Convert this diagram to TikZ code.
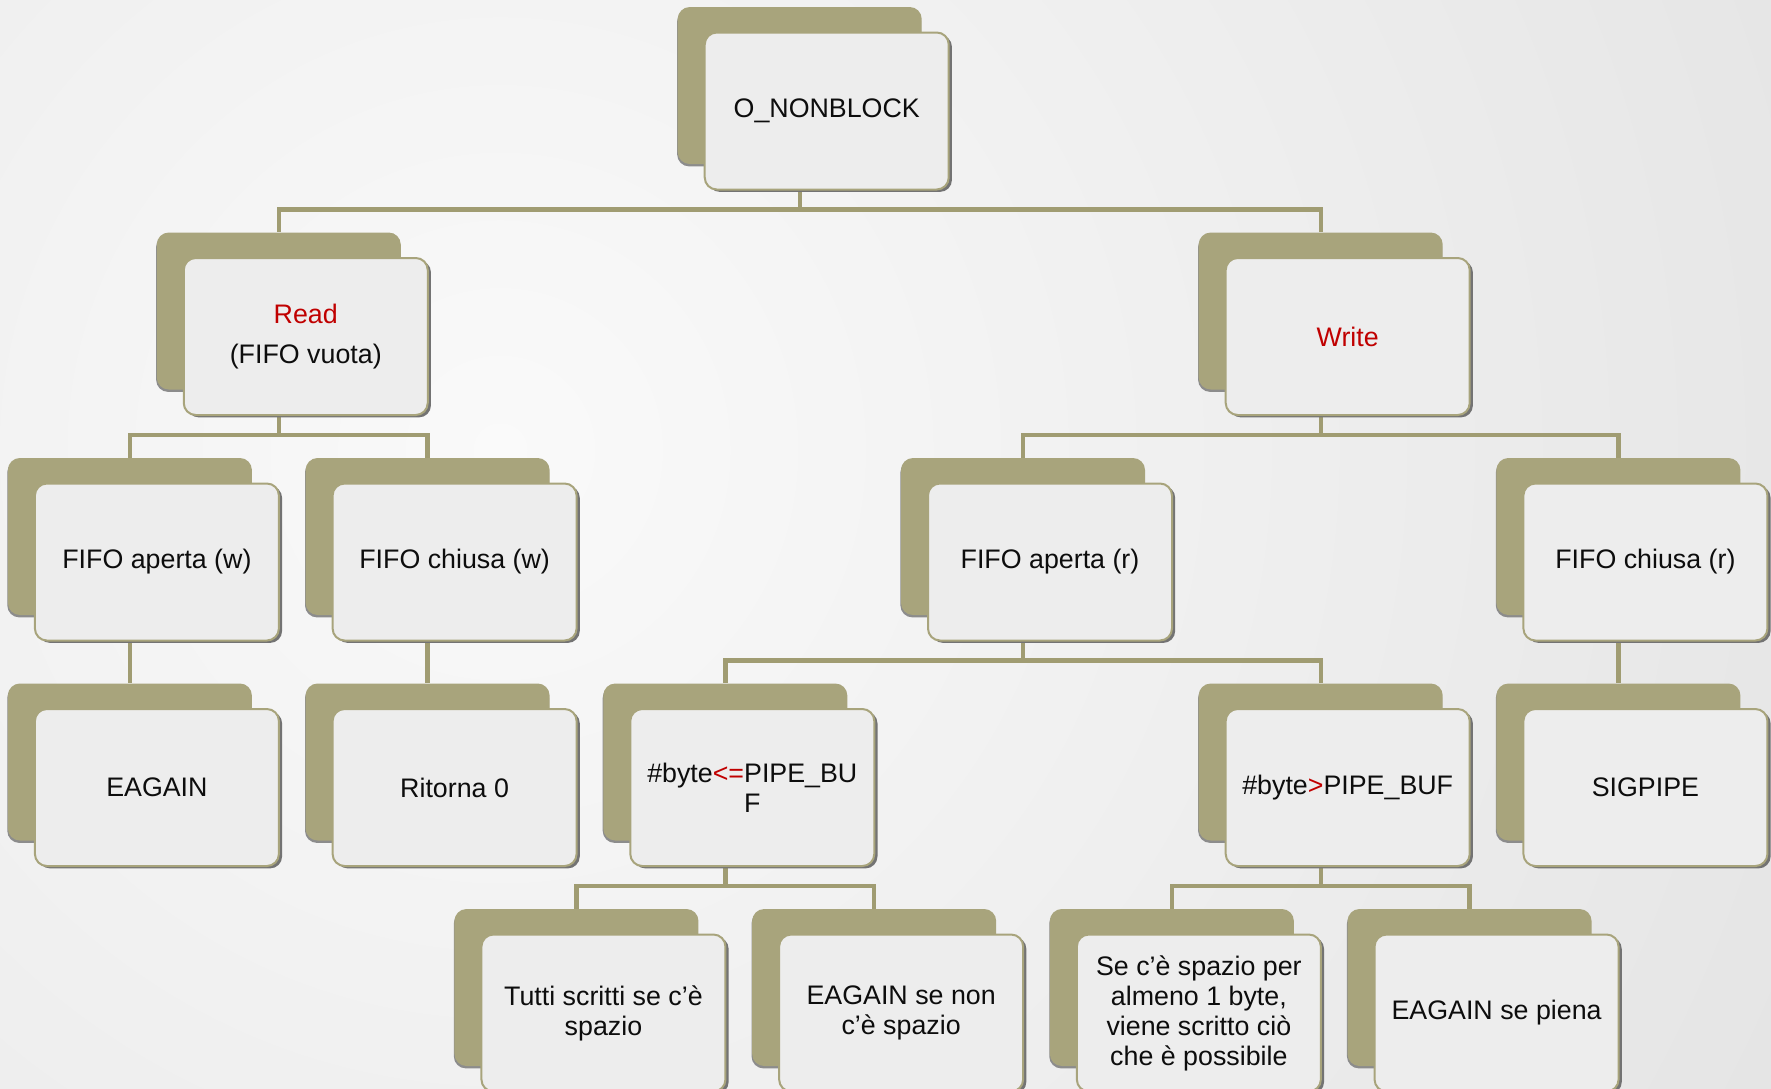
\documentclass[tikz,border=0pt]{standalone}
\usepackage{fontspec}
\setmainfont{Liberation Sans}
\usetikzlibrary{shadows,calc}
\definecolor{olv}{HTML}{A8A47C}
\definecolor{olvline}{HTML}{A09C72}
\definecolor{frontfill}{HTML}{EDEDED}
\definecolor{redt}{HTML}{C00000}
\definecolor{bgout}{HTML}{D2D2D2}
\pgfdeclarelayer{bg}\pgfdeclarelayer{connlayer}\pgfsetlayers{bg,connlayer,main}
\tikzset{
 backbox/.style={rectangle, rounded corners=6pt, fill=olv, minimum width=122pt, minimum height=78.5pt, inner sep=0pt,
   drop shadow={shadow xshift=-0.3pt, shadow yshift=-1.2pt, fill=black!45, opacity=1}},
 frontbox/.style={rectangle, rounded corners=6pt, fill=frontfill, draw=olv, line width=1pt,
   minimum width=122pt, minimum height=78.5pt, inner sep=0pt, align=center, font=\fontsize{13.4pt}{15pt}\selectfont, text=black!95,
   drop shadow={shadow xshift=1.6pt, shadow yshift=-1.2pt, fill=black!55, opacity=1}},
 connline/.style={draw=olvline, line width=2.2pt},
}
\newcommand{\treebox}[4]{%
 \node[backbox] (#1-b) at (129.9+297.7*#2, 85.5+225.5*#3) {};
 \node[frontbox] (#1) at (156.9+297.7*#2, 111+225.5*#3) {#4};}
\newcommand{\linkto}[2]{\draw[connline] (#1-b.center) |- ($(#2-b.north)+(0,-22.5)$) -- (#2-b.north);}
\begin{document}
\begin{tikzpicture}[x=0.5pt,y=-0.5pt]
\useasboundingbox (0,0) rectangle (1771,1088);
\begin{pgfonlayer}{bg}
\clip (0,0) rectangle (1771,1088);
\shade[inner color=white!98!black, outer color=bgout] (500,450) circle (2700);
\end{pgfonlayer}
\treebox{root}{2.25}{0}{O\_NONBLOCK}
\treebox{read}{0.5}{1}{{\color{redt}Read}\\[5pt](FIFO vuota)}
\treebox{write}{4}{1}{{\color{redt}Write}}
\treebox{apw}{0}{2}{FIFO aperta (w)}
\treebox{chw}{1}{2}{FIFO chiusa (w)}
\treebox{apr}{3}{2}{FIFO aperta (r)}
\treebox{chr}{5}{2}{FIFO chiusa (r)}
\treebox{eagain}{0}{3}{EAGAIN}
\treebox{ret}{1}{3}{Ritorna 0}
\treebox{le}{2}{3}{\#byte{\color{redt}<=}PIPE\_BU\\F}
\treebox{gt}{4}{3}{\#byte{\color{redt}>}PIPE\_BUF}
\treebox{sig}{5}{3}{SIGPIPE}
\treebox{tutti}{1.5}{4}{Tutti scritti se c’è\\spazio}
\treebox{eag2}{2.5}{4}{EAGAIN se non\\c’è spazio}
\treebox{se}{3.5}{4}{Se c’è spazio per\\almeno 1 byte,\\viene scritto ciò\\che è possibile}
\treebox{eag3}{4.5}{4}{EAGAIN se piena}
\begin{pgfonlayer}{connlayer}
\linkto{root}{read}
\linkto{root}{write}
\linkto{read}{apw}
\linkto{read}{chw}
\linkto{write}{apr}
\linkto{write}{chr}
\linkto{apw}{eagain}
\linkto{chw}{ret}
\linkto{apr}{le}
\linkto{apr}{gt}
\linkto{chr}{sig}
\linkto{le}{tutti}
\linkto{le}{eag2}
\linkto{gt}{se}
\linkto{gt}{eag3}
\end{pgfonlayer}
\end{tikzpicture}
\end{document}
